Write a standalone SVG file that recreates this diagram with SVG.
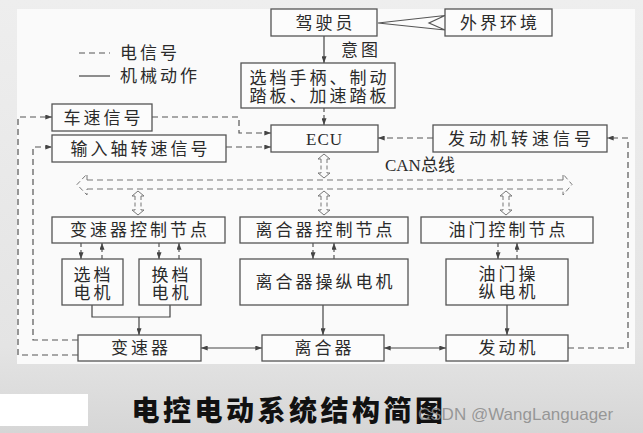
<svg xmlns="http://www.w3.org/2000/svg" width="643" height="433" viewBox="0 0 643 433">
<defs>
<linearGradient id="bg" x1="0" y1="0" x2="0" y2="1">
<stop offset="0" stop-color="#eeeeee"/>
<stop offset="0.8" stop-color="#e4e4e4"/>
<stop offset="1" stop-color="#d6d6d6"/>
</linearGradient>
<marker id="ah" viewBox="0 0 8 6" refX="8" refY="3" markerWidth="7" markerHeight="5" markerUnits="userSpaceOnUse" orient="auto-start-reverse">
<path d="M0,0 L8,3 L0,6 z" fill="#444"/>
</marker>
<style>
.box{fill:#fcfcfc;stroke:#555;stroke-width:1.3}
.t{font-family:"Noto Sans CJK SC","Liberation Serif",serif;font-size:17px;fill:#2b2b2b;text-anchor:middle;letter-spacing:3px}
.tl{font-family:"Noto Sans CJK SC","Liberation Serif",serif;font-size:17px;fill:#2b2b2b;letter-spacing:3px}
.lat{font-family:"Liberation Serif","Noto Sans CJK SC",serif}
.s{fill:none;stroke:#444;stroke-width:1.2}
.d{fill:none;stroke:#555;stroke-width:1.2;stroke-dasharray:6 4}
.ds{stroke-dasharray:4 3}
.dd{fill:none;stroke:#777;stroke-width:1;stroke-dasharray:4 2.5}
.db{stroke-dasharray:6 4}
.hh{fill:none;stroke:#777;stroke-width:1}
</style>
</defs>
<rect x="0" y="0" width="643" height="433" fill="url(#bg)"/>
<rect x="17" y="9" width="618" height="355" fill="#fafafa"/>
<rect x="0" y="394" width="88" height="32" fill="#ffffff"/>

<g id="legend">
<line class="d" x1="79" y1="53" x2="110" y2="53"/>
<text class="tl" x="120" y="59">电信号</text>
<line class="s" x1="79" y1="76" x2="110" y2="76"/>
<text class="tl" x="120" y="82">机械动作</text>
</g>

<g id="connectors">
<line class="s" x1="324" y1="36" x2="324" y2="63" marker-end="url(#ah)"/>
<polygon points="378,23 445,15.5 429,23 445,30" fill="#fcfcfc" stroke="#555" stroke-width="1.2"/>
<polyline class="s" points="92,305 92,317 170,317 170,305"/>
<line class="s" x1="139" y1="317" x2="139" y2="335" marker-end="url(#ah)"/>
<line class="s" x1="323" y1="305" x2="323" y2="335" marker-end="url(#ah)"/>
<line class="s" x1="507" y1="305" x2="507" y2="335" marker-end="url(#ah)"/>
<line class="s" x1="201" y1="348" x2="262" y2="348" marker-start="url(#ah)" marker-end="url(#ah)"/>
<line class="s" x1="384" y1="348" x2="446" y2="348" marker-start="url(#ah)" marker-end="url(#ah)"/>
<line class="d ds" x1="324" y1="108" x2="324" y2="125" marker-end="url(#ah)"/>
<polyline class="d" points="152,117 239,117 239,133 271,133" marker-end="url(#ah)"/>
<line class="d" x1="226" y1="147" x2="271" y2="147" marker-end="url(#ah)"/>
<line class="d" x1="433" y1="138" x2="378" y2="138" marker-end="url(#ah)"/>
<polyline class="d" points="568,348 628,348 628,138 607,138" marker-end="url(#ah)"/>
<polyline class="d" points="78,355 18,355 18,117 52,117" marker-end="url(#ah)"/>
<polyline class="d" points="78,340 33,340 33,147 52,147" marker-end="url(#ah)"/>
<line class="d ds" x1="81" y1="243" x2="81" y2="259" marker-end="url(#ah)"/>
<line class="d ds" x1="102" y1="259" x2="102" y2="243" marker-end="url(#ah)"/>
<line class="d ds" x1="159" y1="243" x2="159" y2="259" marker-end="url(#ah)"/>
<line class="d ds" x1="179" y1="259" x2="179" y2="243" marker-end="url(#ah)"/>
<line class="d ds" x1="313" y1="243" x2="313" y2="259" marker-end="url(#ah)"/>
<line class="d ds" x1="334" y1="259" x2="334" y2="243" marker-end="url(#ah)"/>
<line class="d ds" x1="498" y1="243" x2="498" y2="259" marker-end="url(#ah)"/>
<line class="d ds" x1="517" y1="259" x2="517" y2="243" marker-end="url(#ah)"/>
<line class="dd db" x1="87" y1="180" x2="563" y2="180"/>
<line class="dd db" x1="87" y1="189" x2="563" y2="189"/>
<polyline class="dd" points="87,180 87,174 77,184.5 87,195 87,189" style="stroke-dasharray:5 3"/>
<polyline class="dd" points="563,180 563,174 572,184.5 563,195 563,189" style="stroke-dasharray:5 3"/>
<g id="drop-ecu">
<line class="dd" x1="321" y1="159" x2="321" y2="173"/><line class="dd" x1="327" y1="159" x2="327" y2="173"/>
<polyline class="hh" points="321,159 318,159 324,154 330,159 327,159"/>
<polyline class="hh" points="321,173 318,173 324,178 330,173 327,173"/>
</g>
<g id="drop-clutch">
<line class="dd" x1="321" y1="196" x2="321" y2="210"/><line class="dd" x1="327" y1="196" x2="327" y2="210"/>
<polyline class="hh" points="321,196 318,196 324,191 330,196 327,196"/>
<polyline class="hh" points="321,210 318,210 324,215 330,210 327,210"/>
</g>
<g id="drop-trans">
<line class="dd" x1="135" y1="196" x2="135" y2="210"/><line class="dd" x1="141" y1="196" x2="141" y2="210"/>
<polyline class="hh" points="135,196 132,196 138,191 144,196 141,196"/>
<polyline class="hh" points="135,210 132,210 138,215 144,210 141,210"/>
</g>
<g id="drop-throttle">
<line class="dd" x1="503" y1="196" x2="503" y2="210"/><line class="dd" x1="509" y1="196" x2="509" y2="210"/>
<polyline class="hh" points="503,196 500,196 506,191 512,196 509,196"/>
<polyline class="hh" points="503,210 500,210 506,215 512,210 509,210"/>
</g>
<text class="tl" x="385" y="171" style="letter-spacing:0"><tspan class="lat">CAN</tspan>总线</text>
<text class="tl" x="341" y="56">意图</text>
</g>

<g id="driver"><rect class="box" x="271" y="9" width="106" height="27"/><text class="t" x="325.5" y="28.5">驾驶员</text></g>
<g id="environment"><rect class="box" x="445" y="9" width="107" height="27"/><text class="t" x="500" y="28.5">外界环境</text></g>
<g id="pedals"><rect class="box" x="241" y="63" width="154" height="45"/><text class="t" x="319.5" y="84">选档手柄、制动<tspan x="319.5" dy="18">踏板、加速踏板</tspan></text></g>
<g id="ecu"><rect class="box" x="271" y="125" width="107" height="27"/><text class="t lat" x="324.5" y="145" style="letter-spacing:1px">ECU</text></g>
<g id="speed"><rect class="box" x="52" y="104" width="100" height="27"/><text class="t" x="103.5" y="123.5">车速信号</text></g>
<g id="input-speed"><rect class="box" x="52" y="135" width="174" height="27"/><text class="t" x="140.5" y="154.5">输入轴转速信号</text></g>
<g id="engine-speed"><rect class="box" x="433" y="125" width="174" height="27"/><text class="t" x="521.5" y="144.5" style="letter-spacing:4px">发动机转速信号</text></g>
<g id="trans-node"><rect class="box" x="52" y="217" width="173" height="26"/><text class="t" x="140" y="236">变速器控制节点</text></g>
<g id="clutch-node"><rect class="box" x="240" y="217" width="168" height="26"/><text class="t" x="325.5" y="236">离合器控制节点</text></g>
<g id="throttle-node"><rect class="box" x="421" y="217" width="172" height="26"/><text class="t" x="508.5" y="236">油门控制节点</text></g>
<g id="select-motor"><rect class="box" x="62" y="259" width="61" height="46"/><text class="t" x="93.5" y="281">选档<tspan x="93.5" dy="18">电机</tspan></text></g>
<g id="shift-motor"><rect class="box" x="139" y="259" width="62" height="46"/><text class="t" x="171.5" y="281">换档<tspan x="171.5" dy="18">电机</tspan></text></g>
<g id="clutch-motor"><rect class="box" x="240" y="259" width="168" height="46"/><text class="t" x="325.5" y="288">离合器操纵电机</text></g>
<g id="throttle-motor"><rect class="box" x="446" y="259" width="122" height="46"/><text class="t" x="508.5" y="280">油门操<tspan x="508.5" dy="18">纵电机</tspan></text></g>
<g id="transmission"><rect class="box" x="78" y="335" width="123" height="26"/><text class="t" x="141" y="354">变速器</text></g>
<g id="clutch"><rect class="box" x="262" y="335" width="122" height="26"/><text class="t" x="324.5" y="354">离合器</text></g>
<g id="engine"><rect class="box" x="446" y="335" width="122" height="26"/><text class="t" x="508.5" y="354">发动机</text></g>

<text x="289" y="421" font-family="'Noto Sans CJK SC',sans-serif" font-size="28" font-weight="900" fill="#111" text-anchor="middle" letter-spacing="3.5">电控电动系统结构简图</text>
<text x="418" y="420" font-family="'Liberation Sans',Arial,sans-serif" font-size="17" fill="#8a8a8a" fill-opacity="0.85">CSDN @WangLanguager</text>
</svg>
